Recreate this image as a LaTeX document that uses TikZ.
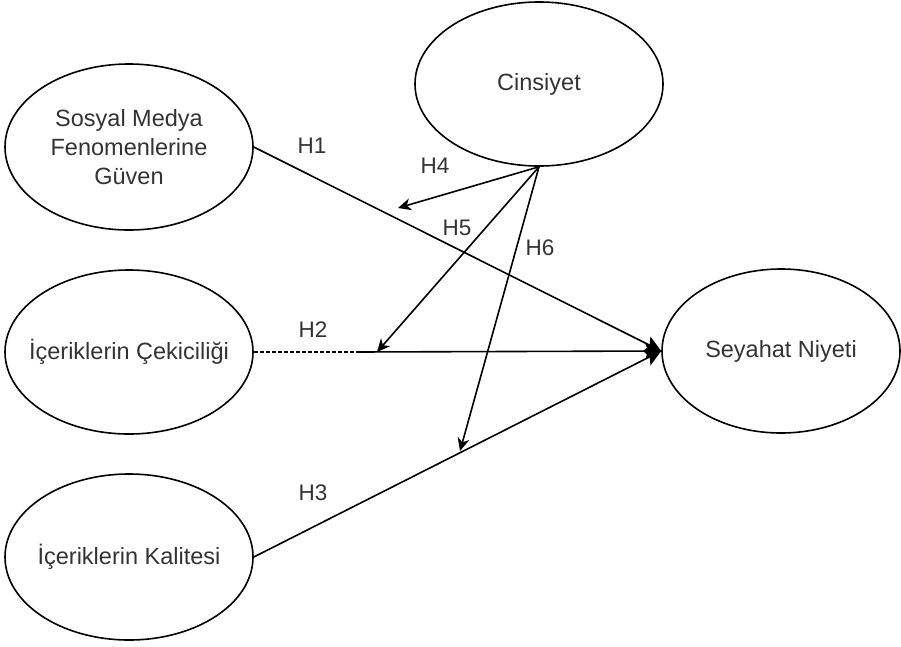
\documentclass[tikz,border=0pt]{standalone}
\usepackage{fontspec}
\setmainfont{Liberation Sans}
\usetikzlibrary{shapes.geometric,arrows.meta}
\definecolor{txt}{HTML}{333333}
\tikzset{
  construct/.style={draw=black, line width=1.6pt, ellipse, inner sep=0pt},
  lbl/.style={text=txt, font=\fontsize{23.5}{29}\selectfont, align=center, inner sep=0pt},
  hyp/.style={text=txt, font=\fontsize{22.5}{27}\selectfont, inner sep=0pt},
  link/.style={line width=1.6pt, draw=black},
  mainarrow/.style={link, -{Stealth[length=16pt,width=16pt,inset=3pt]}},
  modarrow/.style={link, -{Stealth[length=13pt,width=12pt,inset=4pt]}}
}
\begin{document}
\begin{tikzpicture}[x=1pt,y=-1pt]
\useasboundingbox (0,0) rectangle (901,646);
% constructs
\node[construct, minimum width=248pt, minimum height=166pt] (sos) at (129,147) {};
\node[construct, minimum width=248pt, minimum height=164pt] (cek) at (129,352) {};
\node[construct, minimum width=248pt, minimum height=166pt] (kal) at (129,557) {};
\node[construct, minimum width=248pt, minimum height=164pt] (cin) at (539,84) {};
\node[construct, minimum width=238pt, minimum height=164pt] (sey) at (781,351) {};
% texts
\node[lbl] (sost) at (129,147) {Sosyal Medya\\Fenomenlerine\\Güven};
\node[lbl] (cekt) at (129,352) {İçeriklerin Çekiciliği};
\node[lbl] (kalt) at (129,557) {İçeriklerin Kalitesi};
\node[lbl] (cint) at (539,84) {Cinsiyet};
\node[lbl] (seyt) at (781,351) {Seyahat Niyeti};
% helper coordinates
\coordinate (h2s) at (357,352);
\coordinate (h4t) at (398,208);
\coordinate (h5t) at (377,352);
\coordinate (h6t) at (460,451);
% main paths
\draw[mainarrow] (sos.east) -- (sey.west);
\draw[link, dash pattern=on 4pt off 2pt] (cek.east) -- (h2s);
\draw[mainarrow] (h2s) -- (sey.west);
\draw[mainarrow] (kal.east) -- (sey.west);
% moderation paths
\draw[modarrow] (cin.south) -- (h4t);
\draw[modarrow] (cin.south) -- (h5t);
\draw[modarrow] (cin.south) -- (h6t);
% hypothesis labels
\node[hyp] (l1) at (312,146) {H1};
\node[hyp] (l2) at (313,330) {H2};
\node[hyp] (l3) at (313,493) {H3};
\node[hyp] (l4) at (435,166) {H4};
\node[hyp] (l5) at (457,228) {H5};
\node[hyp] (l6) at (540,248) {H6};
\end{tikzpicture}
\end{document}
